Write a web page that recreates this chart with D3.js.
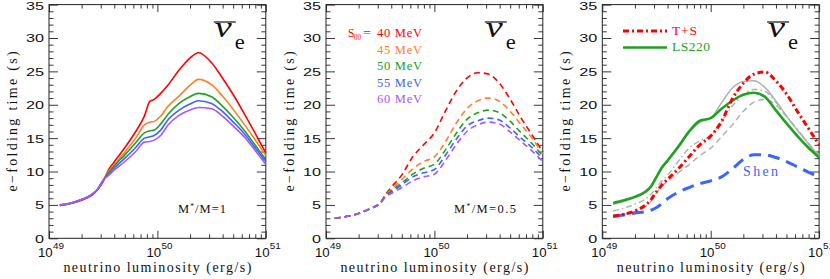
<!DOCTYPE html>
<html lang="en">
<head>
<meta charset="utf-8">
<title>e-folding time vs neutrino luminosity</title>
<script src="https://d3js.org/d3.v7.min.js"></script>
<style>
  body { margin: 0; background: #fff; }
</style>
</head>
<body>
<script>
// log10 of neutrino luminosity (erg/s) for each panel
var logL1 = [49.1, 49.2, 49.3, 49.4, 49.45, 49.5, 49.55, 49.6, 49.7, 49.8, 49.88, 49.93, 49.97, 50.03, 50.1, 50.2, 50.3, 50.38, 50.5, 50.6, 50.7, 50.8, 50.9, 51.0];
var logL2 = [49.08, 49.2, 49.3, 49.4, 49.5, 49.55, 49.6, 49.7, 49.8, 49.9, 50.0, 50.1, 50.2, 50.3, 50.4, 50.5, 50.6, 50.7, 50.8, 50.9, 51.0];
var logL3 = [49.1, 49.2, 49.3, 49.4, 49.45, 49.5, 49.55, 49.6, 49.7, 49.8, 49.9, 50.0, 50.1, 50.2, 50.3, 50.4, 50.5, 50.6, 50.7, 50.8, 50.9, 51.0];

// panel 1: M*/M = 1, S00 = 40..60 MeV
var p1s40 = [4.9, 5.2, 5.7, 6.5, 7.3, 8.5, 10.3, 11.4, 13.6, 16.0, 18.3, 20.5, 20.8, 21.7, 23.0, 25.2, 27.0, 27.8, 26.3, 24.0, 21.5, 18.7, 15.8, 12.8];
var p1s45 = [4.9, 5.2, 5.8, 6.6, 7.4, 8.6, 10.0, 11.0, 12.9, 15.0, 17.0, 17.4, 17.5, 18.3, 19.8, 21.3, 22.9, 23.8, 23.0, 21.3, 19.3, 17.1, 14.8, 12.4];
var p1s50 = [4.9, 5.2, 5.8, 6.6, 7.4, 8.7, 9.8, 10.8, 12.5, 14.3, 15.8, 16.1, 16.2, 17.1, 18.6, 20.2, 21.2, 21.7, 21.2, 19.8, 18.1, 16.2, 14.0, 11.8];
var p1s55 = [5.0, 5.3, 5.8, 6.6, 7.4, 8.7, 9.6, 10.5, 12.0, 13.6, 15.0, 15.2, 15.4, 16.2, 17.8, 19.2, 20.1, 20.6, 20.2, 19.0, 17.4, 15.7, 13.6, 11.5];
var p1s60 = [5.0, 5.3, 5.8, 6.6, 7.4, 8.7, 9.4, 10.2, 11.5, 13.0, 14.4, 14.5, 14.7, 15.4, 17.0, 18.4, 19.2, 19.6, 19.4, 18.3, 16.8, 15.2, 13.2, 11.1];

// panel 2: M*/M = 0.5
var p2s40 = [3.0, 3.3, 3.7, 4.4, 5.3, 6.6, 7.6, 9.5, 12.2, 14.0, 15.8, 19.0, 22.0, 24.0, 24.8, 24.6, 23.2, 20.8, 18.0, 15.5, 12.9];
var p2s45 = [3.0, 3.3, 3.7, 4.4, 5.3, 6.5, 7.3, 8.8, 10.4, 11.5, 12.2, 14.4, 17.2, 19.4, 20.6, 21.0, 20.5, 19.0, 17.0, 15.0, 12.6];
var p2s50 = [3.0, 3.3, 3.7, 4.4, 5.3, 6.4, 7.1, 8.3, 9.6, 10.5, 11.1, 13.2, 15.7, 17.8, 18.8, 19.2, 18.8, 17.5, 15.8, 14.2, 12.3];
var p2s55 = [3.0, 3.3, 3.7, 4.4, 5.3, 6.3, 6.9, 8.0, 9.2, 9.8, 10.3, 12.4, 14.8, 16.8, 17.6, 18.0, 17.7, 16.5, 15.0, 13.6, 11.9];
var p2s60 = [3.0, 3.3, 3.7, 4.4, 5.2, 6.2, 6.7, 7.6, 8.6, 9.2, 9.6, 11.6, 14.0, 16.0, 17.0, 17.4, 17.1, 15.9, 14.5, 13.1, 11.5];

// panel 3: equations of state
var p3TS    = [3.3, 3.6, 4.1, 5.0, 5.8, 7.0, 8.0, 8.8, 10.4, 12.2, 14.0, 15.3, 17.5, 20.9, 23.2, 24.6, 24.9, 23.6, 21.6, 19.0, 16.5, 14.0];
var p3LS220 = [5.3, 5.7, 6.2, 7.0, 7.8, 9.2, 10.6, 11.6, 13.7, 16.0, 17.6, 18.0, 19.4, 20.6, 21.5, 21.8, 21.2, 19.2, 17.2, 15.3, 13.6, 12.1];
var p3Shen  = [3.3, 3.5, 3.8, 4.0, 4.2, 4.6, 5.2, 5.9, 6.9, 7.6, 8.2, 8.6, 9.2, 10.4, 11.8, 12.5, 12.5, 12.1, 11.5, 10.7, 9.9, 9.2];
var p3GrayA = [5.1, 5.5, 6.1, 6.9, 7.7, 9.1, 10.5, 11.5, 13.5, 15.8, 17.4, 18.0, 20.3, 22.5, 23.5, 23.6, 22.6, 20.6, 18.3, 16.2, 14.2, 12.2];
var p3GrayB = [4.1, 4.5, 5.1, 5.9, 6.6, 7.6, 8.6, 9.4, 11.5, 13.5, 14.6, 15.4, 17.5, 19.8, 21.5, 22.3, 22.0, 20.4, 18.3, 16.3, 14.3, 12.3];
var p3GrayC = [3.4, 3.6, 4.0, 4.8, 5.6, 6.8, 7.8, 8.5, 9.8, 11.0, 12.4, 13.5, 15.2, 17.0, 19.0, 20.4, 20.8, 20.0, 18.2, 16.2, 14.2, 12.3];

var s00Labels = ["40 MeV", "45 MeV", "50 MeV", "55 MeV", "60 MeV"];
var yTicks = [0, 5, 10, 15, 20, 25, 30, 35];
var xExps = ["49", "50", "51"];

var colRed = "#ff0000", colOrange = "#ff7f2a", colGreen = "#22a022",
    colBlue = "#3c64ff", colPurple = "#a955ff", colGray = "#a9b5b3";
var sColors = [colRed, colOrange, colGreen, colBlue, colPurple];

var w = 830, h = 279;
var panelLeft = [49, 326, 602.3];
var panelW = 216.8;
var yTop = 4.6, yBot = 238.3;

var svg = d3.select("body").append("svg")
  .attr("width", w).attr("height", h);

var serif = "'Liberation Serif', 'DejaVu Serif', serif";
var sans = "'Liberation Sans', Arial, sans-serif";

// text with a fixed length; "spacing" keeps glyphs thin and widens the gaps
function label(g, str, x, y, size, len, fam, col, adj) {
  var t = g.append("text")
    .attr("x", x).attr("y", y)
    .attr("font-family", fam || serif)
    .attr("font-size", size)
    .attr("fill", col || "#111")
    .text(str);
  if (len) t.attr("textLength", len).attr("lengthAdjust", adj || "spacingAndGlyphs");
  return t;
}

var y = d3.scaleLinear().domain([0, 35]).range([yBot, yTop]);

var minorX = [];
[1e49, 1e50].forEach(function(b) {
  for (var k = 2; k <= 9; k++) minorX.push(k * b);
});
var minorY = d3.range(0, 36).filter(function(v) { return v % 5 != 0; });

function makeLine(x, xs) {
  return d3.line()
    .x(function(d, i) { return x(Math.pow(10, xs[i])); })
    .y(function(d) { return y(d); })
    .curve(d3.curveMonotoneX);
}

function drawPanel(p) {
  var left = panelLeft[p];
  var x = d3.scaleLog().domain([1e49, 1e51]).range([left, left + panelW]);
  var g = svg.append("g");

  // ticks, all pointing inward
  function ticks(axis, tx, ty, vals, len) {
    g.append("g")
      .attr("transform", "translate(" + tx + "," + ty + ")")
      .call(axis.tickValues(vals).tickSize(-len).tickFormat(""))
      .call(function(s) { s.select(".domain").remove(); })
      .selectAll("line").attr("stroke", "#222").attr("stroke-width", 0.9);
  }
  ticks(d3.axisBottom(x), 0, yBot, [1e49, 1e50, 1e51], 7.5);
  ticks(d3.axisBottom(x), 0, yBot, minorX, 4);
  ticks(d3.axisTop(x), 0, yTop, [1e49, 1e50, 1e51], 7.5);
  ticks(d3.axisTop(x), 0, yTop, minorX, 4);
  ticks(d3.axisLeft(y), left, 0, yTicks, 9);
  ticks(d3.axisLeft(y), left, 0, minorY, 4.5);
  ticks(d3.axisRight(y), left + panelW, 0, yTicks, 9);
  ticks(d3.axisRight(y), left + panelW, 0, minorY, 4.5);

  // tick labels
  yTicks.forEach(function(v) {
    var s = String(v), len = 9 * s.length;
    label(g, s, left - 5 - len, Math.max(y(v) + 4.4, 10.2), 11.4, len, sans);
  });
  xExps.forEach(function(e) {
    var px = x(Math.pow(10, +e));
    label(g, "10", px - 11, 256.7, 13.5, 14.7, sans);
    label(g, e, px + 4, 248.5, 8.2, 11, sans);
  });

  // axis titles
  var cx = left + panelW / 2;
  label(g, "neutrino luminosity (erg/s)", cx - 94, 271.5, 14, 188, serif, null, "spacing");
  g.append("text")
    .attr("transform", "translate(" + (left - 32) + "," + ((yTop + yBot) / 2) + ") rotate(-90)")
    .attr("x", -70).attr("y", 0)
    .attr("font-family", serif).attr("font-size", 14).attr("fill", "#111")
    .attr("textLength", 140).attr("lengthAdjust", "spacing")
    .text("e\u2212folding time (s)");

  // nu-bar e symbol
  var nx = left + panelW - 52 + (p == 1 ? -6 : 0);
  label(g, "\u03bd", nx + 1, 37, 30, 17, serif).attr("font-style", "italic");
  g.append("line")
    .attr("x1", nx).attr("x2", nx + 22)
    .attr("y1", 22).attr("y2", 22)
    .attr("stroke", "#111").attr("stroke-width", 1.2);
  label(g, "e", nx + 21, 49, 21, 10, serif);

  // frame
  g.append("rect")
    .attr("x", left).attr("y", yTop)
    .attr("width", panelW).attr("height", yBot - yTop)
    .attr("fill", "none").attr("stroke", "#222").attr("stroke-width", 1);

  return { g: g, x: x };
}

function massLabel(g, x, rest, len) {
  var t = label(g, "M", x, 213, 12.5, null);
  t.append("tspan").attr("font-size", 7.5).attr("dy", -4).text("*");
  t.append("tspan").attr("dy", 4).text(rest);
  t.attr("textLength", len).attr("lengthAdjust", "spacing");
}

// ---- panel 1
var P1 = drawPanel(0);
[p1s40, p1s45, p1s50, p1s55, p1s60].forEach(function(s, i) {
  P1.g.append("path")
    .attr("d", makeLine(P1.x, logL1)(s))
    .attr("fill", "none").attr("stroke", sColors[i]).attr("stroke-width", 1.6);
});
massLabel(P1.g, 178, "/M=1", 48);

// ---- panel 2
var P2 = drawPanel(1);
[p2s40, p2s45, p2s50, p2s55, p2s60].forEach(function(s, i) {
  P2.g.append("path")
    .attr("d", makeLine(P2.x, logL2)(s))
    .attr("fill", "none").attr("stroke", sColors[i]).attr("stroke-width", 1.6)
    .attr("stroke-dasharray", "6,4");
});
label(P2.g, "S", 348, 37, 12.5, 6.5, serif, colRed);
label(P2.g, "00", 354, 39.5, 7.5, 7, serif, colRed);
label(P2.g, "=", 363, 37, 12.5, 8, serif, colRed);
s00Labels.forEach(function(s, i) {
  label(P2.g, s, 377, 37 + 16.5 * i, 12.5, 45, serif, sColors[i], "spacing");
});
massLabel(P2.g, 454, "/M=0.5", 62);

// ---- panel 3
var P3 = drawPanel(2);
var line3 = makeLine(P3.x, logL3);
[[p3GrayA, null], [p3GrayB, "6,3,1.5,3"], [p3GrayC, "6,4"]].forEach(function(c) {
  P3.g.append("path")
    .attr("d", line3(c[0]))
    .attr("fill", "none").attr("stroke", colGray).attr("stroke-width", 1.5)
    .attr("stroke-dasharray", c[1]);
});
P3.g.append("path").attr("d", line3(p3LS220))
  .attr("fill", "none").attr("stroke", colGreen).attr("stroke-width", 2.6);
P3.g.append("path").attr("d", line3(p3Shen))
  .attr("fill", "none").attr("stroke", colBlue).attr("stroke-width", 3)
  .attr("stroke-dasharray", "12,7");
P3.g.append("path").attr("d", line3(p3TS))
  .attr("fill", "none").attr("stroke", colRed).attr("stroke-width", 3)
  .attr("stroke-dasharray", "6,3,2,3");

// legend
P3.g.append("line").attr("x1", 623).attr("x2", 667).attr("y1", 31).attr("y2", 31)
  .attr("stroke", colRed).attr("stroke-width", 3).attr("stroke-dasharray", "6,3,2,3");
label(P3.g, "T+S", 672, 35, 13.5, 25, serif, colRed, "spacing");
P3.g.append("line").attr("x1", 623).attr("x2", 667).attr("y1", 47.5).attr("y2", 47.5)
  .attr("stroke", colGreen).attr("stroke-width", 2.6);
label(P3.g, "LS220", 672, 51, 13.5, 38, serif, colGreen, "spacing");
label(P3.g, "Shen", 743, 176, 14, 35, serif, colBlue, "spacing");
</script>
</body>
</html>
